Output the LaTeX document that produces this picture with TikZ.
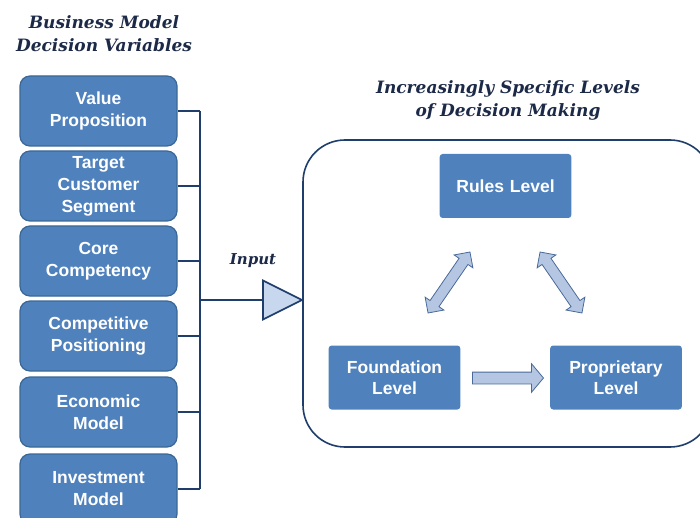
\documentclass[tikz,border=0pt]{standalone}
\usepackage{fontspec}
\setmainfont{Liberation Serif}
\setsansfont{Liberation Sans}
\newfontfamily\titlefont{DejaVu Serif}
\usetikzlibrary{arrows}
\usetikzlibrary{calc}
\usetikzlibrary{shapes.arrows}
\definecolor{boxblue}{HTML}{4F81BD}
\definecolor{boxedge}{HTML}{3A6796}
\definecolor{linkblue}{HTML}{1F3E6B}
\definecolor{arrowfill}{HTML}{B4C6E2}
\definecolor{arrowedge}{HTML}{4A6A9A}
\definecolor{inputfill}{HTML}{C6D7EE}
\definecolor{titlecol}{HTML}{1C2A48}
\newcommand{\drawVarBox}[3]{
	\node[varbox] (#1) at (#2) {#3};
	\draw[link] (#1.east) -- (#1.east -| bus);
}
\newcommand{\drawLevelBox}[3]{
	\node[levelbox] (#1) at (#2) {#3};
}

\begin{document}
\begin{tikzpicture}[x=1pt, y=-1pt,
	varbox/.style={draw=boxedge, line width=1.2pt, fill=boxblue, rounded corners=10pt,
		minimum width=157pt, minimum height=70pt, text width=150pt, align=center,
		font=\sffamily\bfseries\fontsize{17.5}{22}\selectfont, text=white},
	levelbox/.style={fill=boxblue, rounded corners=3pt, minimum width=131pt,
		minimum height=64pt, text width=125pt, align=center,
		font=\sffamily\bfseries\fontsize{17.5}{21}\selectfont, text=white},
	link/.style={draw=linkblue, line width=1.5pt},
	title/.style={align=center, text=titlecol, font=\titlefont\bfseries\itshape\fontsize{17}{23}\selectfont},
	blockarrow/.style={draw=arrowedge, fill=arrowfill, line width=0.8pt, inner xsep=0pt}]
		\useasboundingbox (0,0) rectangle (700,518);

		\coordinate (bus) at (200,111);
		\coordinate (bus_end) at (200,489);
		\coordinate (in_base) at (263,300);
		\coordinate (in_tip) at (302,300);

		% decision variables
		\drawVarBox{value}{98.5,111}{Value\\Proposition}
		\drawVarBox{target}{98.5,186}{Target\\Customer\\Segment}
		\drawVarBox{core}{98.5,261}{Core\\Competency}
		\drawVarBox{compet}{98.5,336}{Competitive\\Positioning}
		\drawVarBox{econ}{98.5,412}{Economic\\Model}
		\drawVarBox{invest}{98.5,489}{Investment\\Model}
		\draw[link] (bus) -- (bus_end);

		\node[title] (vartitle) at (104,34) {Business Model\\Decision Variables};
		\node[title] (leveltitle) at (508,100) {Increasingly Specific Levels\\of Decision Making};

		% input
		\draw[link] (bus |- in_base) -- (in_base);
		\filldraw[draw=linkblue, fill=inputfill, line width=1.6pt, line join=miter]
			($(in_base)+(0,-19.5)$) -- (in_tip) -- ($(in_base)+(0,19.5)$) -- cycle;
		\node[text=titlecol, font=\titlefont\bfseries\itshape\fontsize{15}{20}\selectfont] (inlabel) at (253,261) {Input};

		% levels
		\draw[draw=linkblue, line width=1.6pt, rounded corners=42pt] (303,140) rectangle (712,447);
		\drawLevelBox{rules}{505.5,186}{Rules Level}
		\drawLevelBox{found}{394.5,377.5}{Foundation\\Level}
		\drawLevelBox{prop}{616,377.5}{Proprietary\\Level}

		\node[blockarrow, single arrow, inner ysep=5.5pt, minimum height=71pt,
			single arrow head extend=8.5pt, single arrow tip angle=100] (fp) at (505.5,378) {};
		\node[blockarrow, double arrow, inner ysep=5pt, minimum height=74pt,
			double arrow head extend=6pt, rotate=55.5] (fr) at (449,282.5) {};
		\node[blockarrow, double arrow, inner ysep=5pt, minimum height=74pt,
			double arrow head extend=6pt, rotate=-55.5] (rp) at (561,282.5) {};

	\end{tikzpicture}
\end{document}
